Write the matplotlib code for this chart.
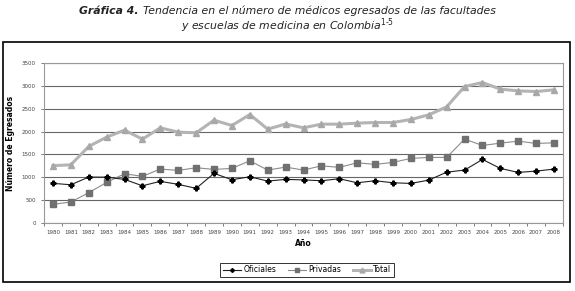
#%%imports
import matplotlib
matplotlib.use("Agg")
import matplotlib.pyplot as plt
from matplotlib.patches import Rectangle
import numpy as np

#%%data
years = list(range(1980, 2009))
oficiales = [864, 833, 1002, 1000, 950, 811, 908, 842, 754, 1083, 943, 1009, 914, 951,
             940, 921, 965, 877, 921, 877, 862, 935, 1110, 1155, 1389, 1192, 1104, 1133, 1177]
privadas = [403, 454, 659, 885, 1075, 1017, 1178, 1148, 1207, 1170, 1192, 1360, 1155, 1221,
            1155, 1250, 1214, 1316, 1280, 1324, 1412, 1433, 1433, 1835, 1696, 1747, 1791, 1740, 1755]
total = [1252, 1272, 1674, 1879, 2032, 1835, 2083, 1988, 1974, 2251, 2134, 2375, 2054, 2168,
         2083, 2164, 2164, 2186, 2200, 2200, 2266, 2368, 2544, 2990, 3078, 2932, 2895, 2880, 2917]
yticks = list(range(0, 3501, 500))

#%%plot
fig = plt.figure(figsize=(5.75, 2.91), dpi=100)
ax = fig.add_axes([44/575, 1-222.7/291, (563-44)/575, (222.7-63.3)/291])

x = np.arange(len(years))
ax.plot(x, total, color="#b4b4b4", lw=2.2, marker="^", ms=5, mfc="#a8a8a8", mec="#a8a8a8", label="Total", zorder=3)
ax.plot(x, privadas, color="#8c8c8c", lw=0.8, marker="s", ms=4, mfc="#707070", mec="#707070", label="Privadas", zorder=4)
ax.plot(x, oficiales, color="#222222", lw=0.8, marker="P", ms=3.5, mfc="black", mec="black", label="Oficiales", zorder=5)

ax.set_xlim(-0.5, len(years)-0.5)
ax.set_ylim(0, 3500)
ax.set_yticks(yticks)
ax.set_xticks(x)
ax.set_xticklabels([str(y) for y in years])
ax.set_xticks(np.arange(-0.5, len(years), 1), minor=True)
ax.tick_params(axis="x", which="major", length=0, labelsize=4, colors="#444444", pad=5)
ax.tick_params(axis="x", which="minor", length=2.5, color="#666666", width=0.6)
ax.tick_params(axis="y", length=2.5, color="#666666", width=0.6, labelsize=4, labelcolor="#444444")
ax.grid(axis="y", color="#666666", lw=0.8)
ax.set_axisbelow(True)
for s in ax.spines.values():
    s.set_color("#999999")
    s.set_linewidth(0.8)

ax.set_ylabel("Número de Egresados", fontsize=5.5, fontweight="bold", labelpad=5)
ax.set_xlabel("Año", fontsize=5.5, fontweight="bold", labelpad=3)

handles, labels = ax.get_legend_handles_labels()
leg = fig.legend(handles[::-1], labels[::-1], loc="center", bbox_to_anchor=(307/575, 1-270/291),
                 ncol=3, fontsize=5.5, frameon=True, fancybox=False, handlelength=2.4,
                 columnspacing=1.5, handletextpad=0.3, borderpad=0.35, markerscale=0.7)
leg.get_frame().set_edgecolor("black")
leg.get_frame().set_linewidth(0.7)

#outer frame
fig.add_artist(Rectangle((2.5/575, 1-282/291), (570-2.5)/575, (282-41.7)/291,
                         transform=fig.transFigure, fill=False, ec="black", lw=1.2))

#title: bold italic prefix + italic rest, centred as one line
title_kw = dict(fontsize=7.8, style="italic", color="#222222", va="center")
renderer = fig.canvas.get_renderer()
t1 = fig.text(0, 1-11/291, "Gráfica 4. ", fontweight="bold", **title_kw)
t2 = fig.text(0, 1-11/291, "Tendencia en el número de médicos egresados de las facultades", **title_kw)
w1 = t1.get_window_extent(renderer).width/575
w2 = t2.get_window_extent(renderer).width/575
x0 = 0.5 - (w1+w2)/2
t1.set_x(x0)
t2.set_x(x0+w1)
fig.text(0.5, 1-26/291, r"y escuelas de medicina en Colombia$^{1\text{-}5}$", ha="center", **title_kw)

fig.savefig("out.png", dpi=100)
